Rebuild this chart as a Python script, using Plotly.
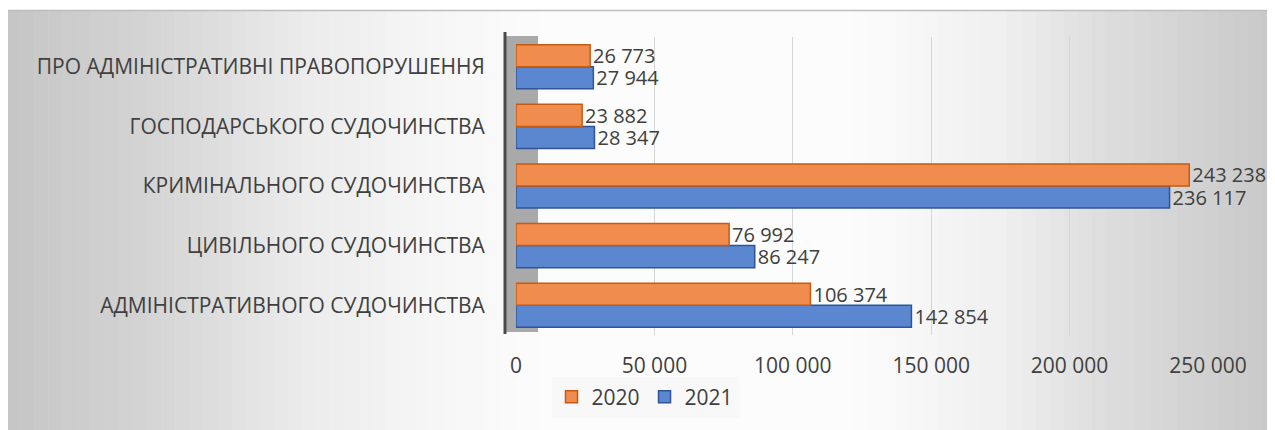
import plotly.graph_objects as go

categories = [
    "АДМІНІСТРАТИВНОГО СУДОЧИНСТВА",
    "ЦИВІЛЬНОГО СУДОЧИНСТВА",
    "КРИМІНАЛЬНОГО СУДОЧИНСТВА",
    "ГОСПОДАРСЬКОГО СУДОЧИНСТВА",
    "ПРО АДМІНІСТРАТИВНІ ПРАВОПОРУШЕННЯ",
]
values_2020 = [106374, 76992, 243238, 23882, 26773]
values_2021 = [142854, 86247, 236117, 28347, 27944]
tick_values = [0, 50000, 100000, 150000, 200000, 250000]

# the page body adds an 8px margin; work in page pixels and convert
OFF = 8
PW, PH = 1275, 430
W, H = PW - OFF, PH - OFF
L, R, T, B = 516, 1208, 37, 335  # plot area, page pixels


def px(x):
    return (x - L) / (R - L)


def py(y):
    return (B - y) / (B - T)


def fmt(v):
    return f"{v:,}".replace(",", " ")


FS = 21
LFS = 20
fig = go.Figure()
fig.add_trace(go.Bar(
    y=categories, x=values_2021, name="2021", orientation="h",
    marker=dict(color="#5B87D0", line=dict(color="#2F5597", width=1.5)),
    text=[fmt(v) for v in values_2021], textposition="outside",
    constraintext="none",
    textfont=dict(size=LFS, color="#404040"), cliponaxis=False,
))
fig.add_trace(go.Bar(
    y=categories, x=values_2020, name="2020", orientation="h",
    marker=dict(color="#F08C4E", line=dict(color="#C55A11", width=1.5)),
    text=[fmt(v) for v in values_2020], textposition="outside",
    constraintext="none",
    textfont=dict(size=LFS, color="#404040"), cliponaxis=False,
))

# background gradient stripes
stops = [(6, 197), (150, 212), (300, 235), (450, 247), (550, 252), (850, 252),
         (1000, 240), (1100, 222), (1275, 200)]


def bright(x):
    for (x0, b0), (x1, b1) in zip(stops, stops[1:]):
        if x0 <= x <= x1:
            return b0 + (b1 - b0) * (x - x0) / (x1 - x0)
    return stops[-1][1]


shapes = []
n = 90
step = (PW - 6) / n
for i in range(n):
    x0 = 6 + i * step
    x1 = x0 + step + 0.5
    b = int(round(bright((x0 + x1) / 2)))
    shapes.append(dict(type="rect", xref="paper", yref="paper",
                       x0=px(x0), x1=px(x1), y0=py(PH + 5), y1=py(10),
                       fillcolor=f"rgb({b},{b},{b})", line=dict(width=0),
                       layer="below"))
shapes.append(dict(type="line", xref="paper", yref="paper",
                   x0=px(6), x1=px(PW + 5), y0=py(10.5), y1=py(10.5),
                   line=dict(color="#bdbdbd", width=1.5), layer="below"))
# side wall
shapes.append(dict(type="rect", xref="paper", yref="paper",
                   x0=px(506), x1=px(538), y0=py(332), y1=py(36),
                   fillcolor="#a9a9a9", line=dict(width=0), layer="below"))
shapes.append(dict(type="line", xref="paper", yref="paper",
                   x0=px(505), x1=px(505), y0=py(334), y1=py(32),
                   line=dict(color="#4a4a4a", width=3), layer="below"))

fig.update_layout(
    width=W, height=H,
    margin=dict(l=L - OFF, r=PW - R, t=T - OFF, b=PH - B),
    paper_bgcolor="white", plot_bgcolor="rgba(0,0,0,0)",
    font=dict(family="Open Sans", size=FS, color="#404040"),
    separators=", ",
    barmode="group", bargap=0.26, bargroupgap=0,
    shapes=shapes,
    showlegend=True,
    legend=dict(orientation="h", x=px(645), xanchor="center",
                y=py(397), yanchor="middle", traceorder="reversed",
                bgcolor="rgba(248,248,248,0.95)", itemwidth=30,
                font=dict(size=FS, color="#404040")),
    xaxis=dict(range=[0, 250000], tickvals=tick_values,
               ticktext=[fmt(v) for v in tick_values],
               showgrid=True, gridcolor="#d6d6d6", gridwidth=1,
               zeroline=False, showline=False,
               ticks="outside", ticklen=12, tickcolor="rgba(0,0,0,0)"),
    yaxis=dict(showgrid=False, zeroline=False, showline=False,
               ticks="outside", ticklen=26, tickcolor="rgba(0,0,0,0)"),
)

fig.write_html("out.html")
